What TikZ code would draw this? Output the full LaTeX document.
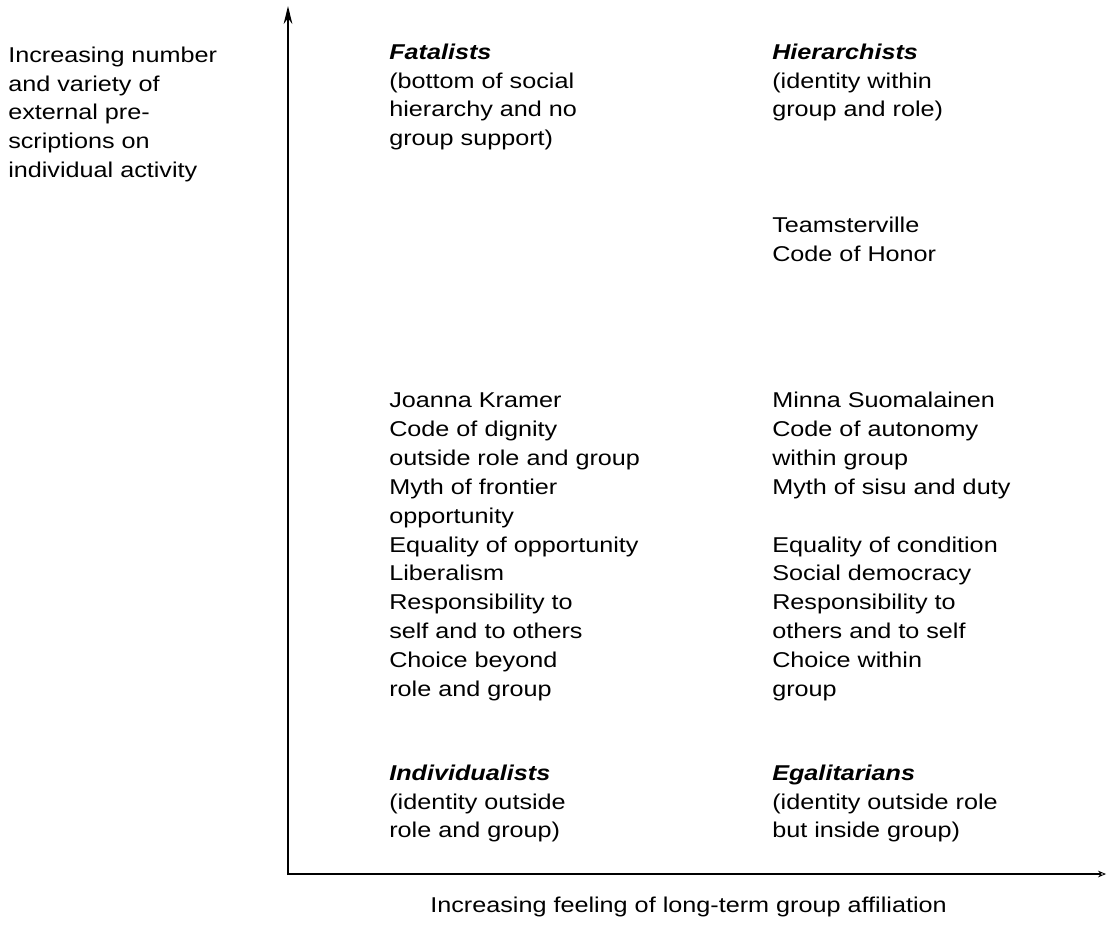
\documentclass[tikz,border=0pt]{standalone}
\usepackage{fontspec}
\usepackage{graphicx}
\setmainfont{Liberation Sans}
\usetikzlibrary{arrows.meta}
\tikzset{
  txt/.style={anchor=north west, inner sep=0pt,
    font=\fontsize{18.9pt}{25.46pt}\selectfont},
  axis/.style={line width=1.5pt},
}
% text of the reference is set with a vertical squeeze of about 0.85
\newcommand{\blk}[1]{\scalebox{1}[0.85]{\begin{tabular}{@{}l@{}}#1\end{tabular}}}
\newcommand{\hd}[1]{\textbf{\textit{#1}}}
\begin{document}
\begin{tikzpicture}[x=0.75pt,y=-0.75pt]
\useasboundingbox (0,0) rectangle (1112,936);
% node top = first baseline - 20.2 px
\node[txt] (ylab) at (8,41.8) {\blk{Increasing number\\and variety of\\external pre-\\scriptions on\\individual activity}};
\node[txt] (fat) at (389,38.8) {\blk{\hd{Fatalists}\\(bottom of social\\hierarchy and no\\group support)}};
\node[txt] (hier) at (772,38.8) {\blk{\hd{Hierarchists}\\(identity within\\group and role)}};
\node[txt] (team) at (772,211.8) {\blk{Teamsterville\\Code of Honor}};
\node[txt] (joanna) at (389,387.3) {\blk{Joanna Kramer\\Code of dignity\\outside role and group\\Myth of frontier\\opportunity\\Equality of opportunity\\Liberalism\\Responsibility to\\self and to others\\Choice beyond\\role and group}};
\node[txt] (minna) at (772,387.3) {\blk{Minna Suomalainen\\Code of autonomy\\within group\\Myth of sisu and duty\\ \\Equality of condition\\Social democracy\\Responsibility to\\others and to self\\Choice within\\group}};
\node[txt] (indiv) at (389,759.8) {\blk{\hd{Individualists}\\(identity outside\\role and group)}};
\node[txt] (egal) at (772,759.8) {\blk{\hd{Egalitarians}\\(identity outside role\\but inside group)}};
\node[txt] (xlab) at (430,891.8) {\blk{Increasing feeling of long-term group affiliation}};
% axes
\coordinate (O) at (288,874);
\coordinate (ytop) at (288,6);
\coordinate (xend) at (1106,874);
\draw[axis, -{Stealth[length=13.5pt,width=6.5pt]}] ([yshift=-0.75pt]O) -- (ytop);
\draw[axis, -{Stealth[length=6pt,width=5pt,open,line width=0.6pt]}] ([xshift=-0.75pt]O) -- (xend);
\end{tikzpicture}
\end{document}
